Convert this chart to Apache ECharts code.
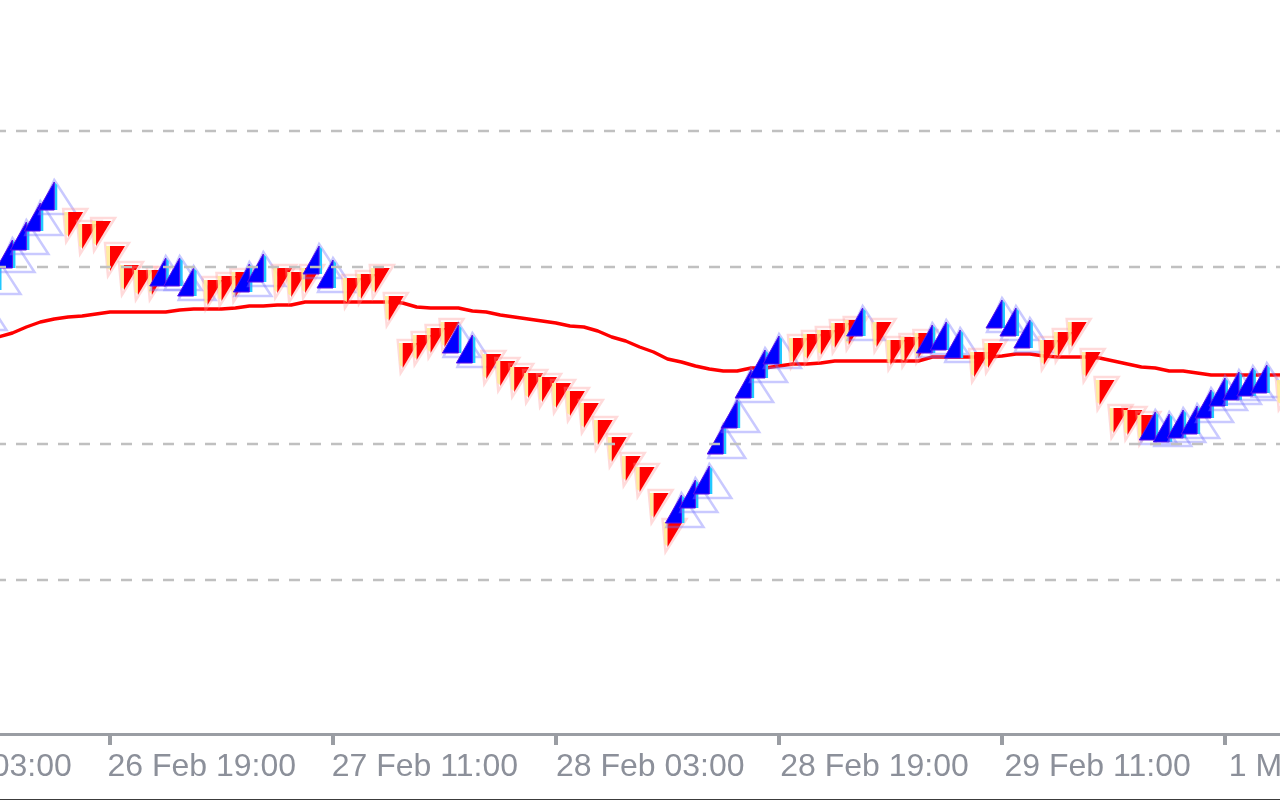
<!DOCTYPE html>
<html><head><meta charset="utf-8">
<script src="https://cdn.jsdelivr.net/npm/echarts@6.0.0/dist/echarts.min.js"></script>
<style>html,body{margin:0;padding:0;background:#fff;}#chart{width:1280px;height:800px;}</style>
</head><body><div id="chart"></div>
<script>
// x value = hours since 26 Feb 11:00
const tickHours = [-8, 8, 24, 40, 56, 72, 88];
const tickLabels = ['26 Feb 03:00', '26 Feb 19:00', '27 Feb 11:00', '28 Feb 03:00', '28 Feb 19:00', '29 Feb 11:00', '1 Mar 03:00'];
const gridPrices = [1.08869, 1.08733, 1.08556, 1.08420];

const arrowHours = [-1, 0, 1, 2, 3, 4, 5, 6, 7, 8, 9, 10, 11, 12, 13, 14, 15, 16, 17, 18, 19, 20, 21, 22, 23, 24, 25, 26, 27, 28, 29, 30, 31, 32, 33, 34, 35, 36, 37, 38, 39, 40, 41, 42, 43, 44, 45, 46, 47, 48, 49, 50, 51, 52, 53, 54, 55, 56, 57, 58, 59, 60, 61, 62, 63, 64, 65, 66, 67, 68, 69, 70, 71, 72, 73, 74, 75, 76, 77, 78, 79, 80, 81, 82, 83, 84, 85, 86, 87, 88, 89, 90, 91, 92];
const arrowPrices = [1.08702, 1.08738, 1.08760, 1.08778, 1.08797, 1.08818, 1.08788, 1.08776, 1.08779, 1.08754, 1.08735, 1.08730, 1.08730, 1.08742, 1.08742, 1.08732, 1.08720, 1.08724, 1.08728, 1.08736, 1.08746, 1.08732, 1.08728, 1.08732, 1.08754, 1.08740, 1.08722, 1.08726, 1.08732, 1.08704, 1.08657, 1.08665, 1.08672, 1.08678, 1.08675, 1.08665, 1.08646, 1.08639, 1.08633, 1.08627, 1.08623, 1.08617, 1.08609, 1.08597, 1.08580, 1.08563, 1.08544, 1.08533, 1.08507, 1.08478, 1.08505, 1.08520, 1.08534, 1.08574, 1.08600, 1.08630, 1.08650, 1.08664, 1.08662, 1.08666, 1.08670, 1.08677, 1.08680, 1.08692, 1.08678, 1.08660, 1.08663, 1.08667, 1.08675, 1.08678, 1.08670, 1.08648, 1.08657, 1.08700, 1.08692, 1.08680, 1.08660, 1.08668, 1.08678, 1.08648, 1.08620, 1.08592, 1.08590, 1.08585, 1.08588, 1.08586, 1.08590, 1.08594, 1.08610, 1.08622, 1.08628, 1.08632, 1.08635, 1.08620];
const arrowDirs = [1, 1, 1, 1, 1, 1, -1, -1, -1, -1, -1, -1, -1, 1, 1, 1, -1, -1, -1, 1, 1, -1, -1, -1, 1, 1, -1, -1, -1, -1, -1, -1, -1, -1, 1, 1, -1, -1, -1, -1, -1, -1, -1, -1, -1, -1, -1, -1, -1, -1, 1, 1, 1, 1, 1, 1, 1, 1, -1, -1, -1, -1, -1, 1, -1, -1, -1, -1, 1, 1, 1, -1, -1, 1, 1, 1, -1, -1, -1, -1, -1, -1, -1, -1, 1, 1, 1, 1, 1, 1, 1, 1, 1, -1];

const maHours = [-1, 0, 1, 2, 3, 4, 5, 6, 7, 8, 9, 10, 11, 12, 13, 14, 15, 16, 17, 18, 19, 20, 21, 22, 23, 24, 25, 26, 27, 28, 29, 30, 31, 32, 33, 34, 35, 36, 37, 38, 39, 40, 41, 42, 43, 44, 45, 46, 47, 48, 49, 50, 51, 52, 53, 54, 55, 56, 57, 58, 59, 60, 61, 62, 63, 64, 65, 66, 67, 68, 69, 70, 71, 72, 73, 74, 75, 76, 77, 78, 79, 80, 81, 82, 83, 84, 85, 86, 87, 88, 89, 90, 91, 92];
const maPrices = [1.08659, 1.08663, 1.08667, 1.08673, 1.08678, 1.08681, 1.08683, 1.08684, 1.08686, 1.08688, 1.08688, 1.08688, 1.08688, 1.08688, 1.08690, 1.08691, 1.08691, 1.08691, 1.08692, 1.08694, 1.08694, 1.08695, 1.08695, 1.08698, 1.08698, 1.08698, 1.08698, 1.08698, 1.08698, 1.08698, 1.08697, 1.08693, 1.08692, 1.08692, 1.08692, 1.08689, 1.08688, 1.08685, 1.08683, 1.08681, 1.08679, 1.08677, 1.08674, 1.08673, 1.08669, 1.08663, 1.08659, 1.08653, 1.08648, 1.08641, 1.08638, 1.08634, 1.08631, 1.08629, 1.08629, 1.08632, 1.08632, 1.08634, 1.08636, 1.08636, 1.08637, 1.08639, 1.08639, 1.08639, 1.08639, 1.08639, 1.08639, 1.08639, 1.08643, 1.08643, 1.08643, 1.08643, 1.08643, 1.08644, 1.08646, 1.08646, 1.08644, 1.08643, 1.08643, 1.08643, 1.08642, 1.08639, 1.08636, 1.08633, 1.08632, 1.08629, 1.08629, 1.08627, 1.08625, 1.08625, 1.08625, 1.08625, 1.08625, 1.08625];

const xMin = -24, xMax = 104;
const yMin = 1.08266, yMax = 1.09000;

function renderArrow(params, api) {
  const p = api.coord([api.value(0), api.value(1)]);
  const x = p[0], y = p[1];
  const dir = api.value(2);
  if (dir < 0) {
    return { type: 'group', children: [
      { type: 'polygon', shape: { points: [[x - 5, y - 3], [x + 19, y - 3], [x - 2, y + 30]] },
        style: { fill: 'none', stroke: 'rgba(255,150,150,0.35)', lineWidth: 2.5 } },
      { type: 'polygon', shape: { points: [[x - 4, y], [x, y], [x, y + 24], [x - 3, y + 22]] },
        style: { fill: 'rgba(255,235,150,0.9)' } },
      { type: 'polygon', shape: { points: [[x, y], [x + 15, y], [x, y + 25]] },
        style: { fill: '#ff0000' } }
    ]};
  }
  return { type: 'group', children: [
    { type: 'polygon', shape: { points: [[x, y - 2], [x + 22, y + 32], [x - 15, y + 32]] },
      style: { fill: 'none', stroke: 'rgba(120,120,255,0.4)', lineWidth: 2.5 } },
    { type: 'polygon', shape: { points: [[x, y], [x + 3, y + 3], [x + 3, y + 28], [x, y + 28]] },
      style: { fill: '#22c8ff' } },
    { type: 'polygon', shape: { points: [[x, y], [x, y + 28], [x - 16, y + 28]] },
      style: { fill: '#0000ff', stroke: '#5a10e8', lineWidth: 1 } }
  ]};
}

const chart = echarts.init(document.getElementById('chart'), null, { renderer: 'canvas' });
chart.setOption({
  animation: false,
  backgroundColor: '#ffffff',
  grid: [
    { left: -336, right: -168, top: 0, bottom: 66, outerBoundsMode: 'none', containLabel: false },
    { left: -341, right: -173, top: 0, bottom: 66, outerBoundsMode: 'none', containLabel: false }
  ],
  xAxis: [
    { type: 'value', gridIndex: 0, min: xMin, max: xMax,
      axisLine: { show: true, lineStyle: { color: '#9a9da3', width: 3 } },
      axisTick: { show: true, customValues: tickHours, length: 11, lineStyle: { color: '#9a9da3', width: 4 } },
      axisLabel: { show: false }, splitLine: { show: false } },
    { type: 'value', gridIndex: 1, min: xMin, max: xMax,
      axisLine: { show: false }, axisTick: { show: false }, splitLine: { show: false },
      axisLabel: { show: true, customValues: tickHours, margin: 17, align: 'left',
        fontSize: 32, fontFamily: 'Liberation Sans', color: '#8c909a',
        formatter: function (v) { const i = tickHours.indexOf(Math.round(v)); return i >= 0 ? tickLabels[i] : ''; } } }
  ],
  yAxis: [
    { type: 'value', gridIndex: 0, min: yMin, max: yMax, show: false, splitLine: { show: false } },
    { type: 'value', gridIndex: 1, min: yMin, max: yMax, show: false, splitLine: { show: false } }
  ],
  graphic: [
    { type: 'rect', shape: { x: 0, y: 799, width: 1280, height: 1 }, style: { fill: '#3c3c3c' }, silent: true }
  ],
  series: [
    { name: 'MA', type: 'line', xAxisIndex: 0, yAxisIndex: 0, z: 2,
      data: maHours.map((h, i) => [h, maPrices[i]]),
      showSymbol: false, symbol: 'none', lineStyle: { color: '#ff0000', width: 3.4 },
      silent: true,
      markLine: { silent: true, symbol: ['none', 'none'], label: { show: false }, precision: 5,
        lineStyle: { color: '#c0c0c0', type: [11, 10], width: 2.3, dashOffset: 5 },
        emphasis: { disabled: true },
        data: gridPrices.map(v => ({ yAxis: v })) } },
    { name: 'Arrows', type: 'custom', xAxisIndex: 0, yAxisIndex: 0, z: 3, clip: false,
      renderItem: renderArrow, silent: true,
      encode: { x: 0, y: 1 },
      data: arrowHours.map((h, i) => [h, arrowPrices[i], arrowDirs[i]]) }
  ]
});
</script></body></html>
